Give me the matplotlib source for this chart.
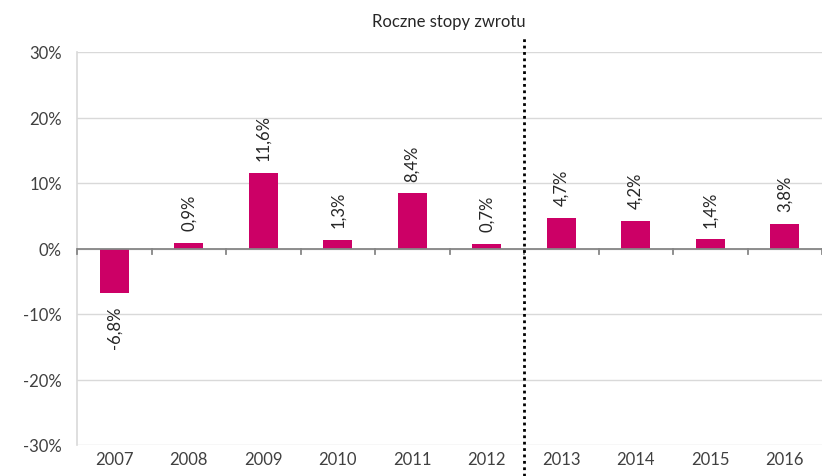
import matplotlib.pyplot as plt
import numpy as np

plt.rcParams['font.family'] = ['Lato', 'DejaVu Sans']

# data
years = ["2007", "2008", "2009", "2010", "2011", "2012", "2013", "2014", "2015", "2016"]
returns = [-6.8, 0.9, 11.6, 1.3, 8.4, 0.7, 4.7, 4.2, 1.4, 3.8]
labels = ["-6,8%", "0,9%", "11,6%", "1,3%", "8,4%", "0,7%", "4,7%", "4,2%", "1,4%", "3,8%"]
yticks = [-30, -20, -10, 0, 10, 20, 30]

bar_color = "#CC0066"
text_color = "#404040"

fig = plt.figure(figsize=(8.22, 4.77), dpi=100)
ax = fig.add_axes([77/822, 1 - 446/477, 745/822, 393/477])

x = np.arange(len(years))
ax.bar(x, returns, width=0.39, color=bar_color, zorder=3)

for i in range(len(years)):
    v = returns[i]
    if v >= 0:
        ax.annotate(labels[i], (x[i], v), xytext=(0, 9), textcoords="offset points",
                    rotation=90, ha="center", va="bottom", fontsize=12, color="#262626")
    else:
        ax.annotate(labels[i], (x[i], v), xytext=(0, -9), textcoords="offset points",
                    rotation=90, ha="center", va="top", fontsize=12, color="#262626")

ax.set_xlim(-0.5, len(years) - 0.5)
ax.set_ylim(-30, 30)
ax.set_yticks(yticks)
ax.set_yticklabels([f"{t}%" for t in yticks])
ax.yaxis.grid(True, color="#d9d9d9", linewidth=1, zorder=0)
ax.tick_params(axis="y", length=0, pad=11, labelsize=12, labelcolor=text_color)

# category labels at bottom
ax.set_xticks(x)
ax.set_xticklabels(years)
ax.tick_params(axis="x", length=0, pad=4, labelsize=12, labelcolor=text_color)

for s in ["top", "right", "bottom"]:
    ax.spines[s].set_visible(False)
ax.spines["left"].set_color("#d9d9d9")
ax.spines["left"].set_linewidth(1.2)

# zero axis with tick marks between categories
ax.axhline(0, color="#868686", linewidth=1.3, zorder=4)
for b in np.arange(-0.5, len(years) - 0.4, 1.0):
    ax.plot([b, b], [0, -0.8], color="#868686", linewidth=1.3, zorder=4, clip_on=False)

# divider between 2012 and 2013
ax.axvline(5.5, ymin=-0.08, ymax=1.04, color="black", linestyle=(0, (1, 1.3)),
           linewidth=2, clip_on=False, zorder=5)

fig.text(449/822, 1 - 22/477, "Roczne stopy zwrotu", ha="center", va="center",
         fontsize=12, color="#262626")

fig.savefig("out.png", dpi=100)
